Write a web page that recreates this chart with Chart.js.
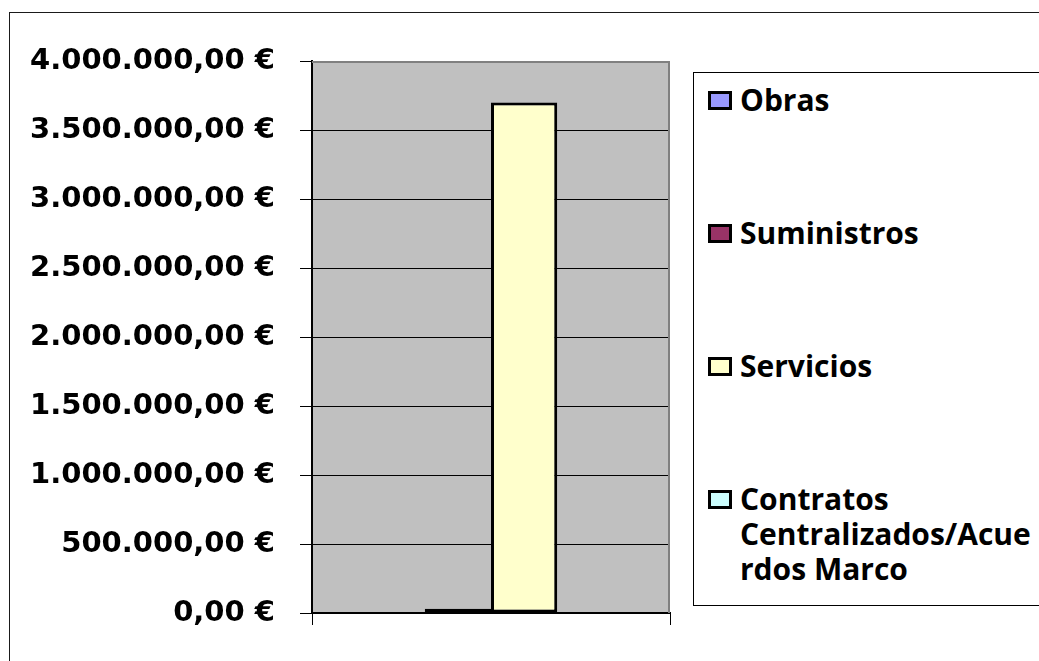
<!DOCTYPE html>
<html>
<head>
<meta charset="utf-8">
<script src="https://cdn.jsdelivr.net/npm/chart.js@4/dist/chart.umd.min.js"></script>
<style>
    html, body { margin: 0; padding: 0; background: #fff; }
    #wrap { position: relative; width: 1039px; height: 661px; overflow: hidden; }
    #frame { position: absolute; left: 9px; top: 12px; width: 1100px; height: 700px; border: 1px solid #1a1a1a; }
    #chart-box { position: absolute; left: 0; top: 0; width: 1039px; height: 661px; }
    #legend {
        position: absolute; left: 693px; top: 72px; width: 400px; height: 534px;
        border: 1px solid #000; background: #fff; box-sizing: border-box;
        display: flex; flex-direction: column; justify-content: space-between;
        padding: 9px 0 19px 0;
        font-family: "Open Sans", sans-serif; font-weight: bold; font-size: 30px; line-height: 35px; color: #000;
    }
    .legend-item { position: relative; padding-left: 46px; }
    .legend-swatch {
        position: absolute; left: 14px; top: 9px; width: 24px; height: 19px;
        border: 3px solid #000; box-sizing: border-box;
    }
</style>
</head>
<body>
<div id="wrap">
    <div id="frame"></div>
    <div id="chart-box"><canvas id="chart"></canvas></div>
    <div id="legend"></div>
</div>
<script>
// chart data
const categories = [''];
const seriesNames = ['Obras', 'Suministros', 'Servicios', 'Contratos Centralizados/Acuerdos Marco'];
const obras = [0];
const suministros = [30000];
const servicios = [3700000];
const contratos = [0];
const yTicks = [0, 500000, 1000000, 1500000, 2000000, 2500000, 3000000, 3500000, 4000000];

const seriesColors = ['#9999FF', '#993366', '#FFFFCC', '#CCFFFF'];

function euro(v) {
    const parts = v.toFixed(2).split('.');
    return parts[0].replace(/\B(?=(\d{3})+(?!\d))/g, '.') + ',' + parts[1] + ' €';
}

// grey plot area like the old excel charts
const plotBackground = {
    id: 'plotBackground',
    beforeDraw(chart) {
        const a = chart.chartArea, ctx = chart.ctx;
        ctx.save();
        ctx.fillStyle = '#C0C0C0';
        ctx.fillRect(a.left, a.top, a.right - a.left, a.bottom - a.top);
        ctx.restore();
    },
    afterDatasetsDraw(chart) {
        const a = chart.chartArea, ctx = chart.ctx;
        ctx.save();
        ctx.strokeStyle = '#808080';
        ctx.lineWidth = 2;
        ctx.beginPath();
        ctx.moveTo(a.left, a.top + 1);
        ctx.lineTo(a.right - 1, a.top + 1);
        ctx.lineTo(a.right - 1, a.bottom);
        ctx.stroke();
        ctx.restore();
    }
};

const allSeries = [obras, suministros, servicios, contratos];

new Chart(document.getElementById('chart'), {
    type: 'bar',
    data: {
        labels: categories,
        datasets: allSeries.map((values, i) => ({
            label: seriesNames[i],
            data: values,
            backgroundColor: seriesColors[i],
            borderColor: '#000',
            borderWidth: 3,
            borderSkipped: false,
            barPercentage: 1,
            categoryPercentage: 0.74
        }))
    },
    options: {
        responsive: true,
        maintainAspectRatio: false,
        animation: false,
        layout: { padding: { left: 0, top: 61, right: 369, bottom: 0 } },
        plugins: { legend: { display: false }, tooltip: { enabled: false } },
        scales: {
            x: {
                grid: { offset: true, drawOnChartArea: false, color: '#000', tickLength: 12 },
                border: { color: '#000', width: 2 },
                ticks: { display: false },
                afterFit(scale) { scale.height = 48; }
            },
            y: {
                min: yTicks[0],
                max: yTicks[yTicks.length - 1],
                afterBuildTicks(scale) { scale.ticks = yTicks.map(v => ({ value: v })); },
                ticks: {
                    callback: v => euro(v),
                    color: '#000',
                    padding: 25,
                    font: { family: 'DejaVu Sans', weight: 'bold', size: 29 }
                },
                grid: { color: '#000', lineWidth: 1, tickLength: 12 },
                border: { color: '#000', width: 2 },
                afterFit(scale) { scale.width = 312; }
            }
        }
    },
    plugins: [plotBackground]
});

// legend, wrapped like excel does (words first, then long words split)
const legendEl = document.getElementById('legend');
const measure = document.createElement('canvas').getContext('2d');
measure.font = 'bold 30px "Open Sans"';
const maxTextWidth = 292;

function wrapLabel(text) {
    const lines = [];
    let line = '';
    text.split(' ').forEach(word => {
        const test = line ? line + ' ' + word : word;
        if (measure.measureText(test).width <= maxTextWidth) { line = test; return; }
        if (line) { lines.push(line); line = ''; }
        let chunk = '';
        for (const ch of word) {
            if (measure.measureText(chunk + ch).width > maxTextWidth) { lines.push(chunk); chunk = ch; }
            else chunk += ch;
        }
        line = chunk;
    });
    if (line) lines.push(line);
    return lines;
}

seriesNames.forEach((name, i) => {
    const item = document.createElement('div');
    item.className = 'legend-item';
    const sw = document.createElement('span');
    sw.className = 'legend-swatch';
    sw.style.background = seriesColors[i];
    item.appendChild(sw);
    wrapLabel(name).forEach(l => {
        const d = document.createElement('div');
        d.textContent = l;
        item.appendChild(d);
    });
    legendEl.appendChild(item);
});
</script>
</body>
</html>
